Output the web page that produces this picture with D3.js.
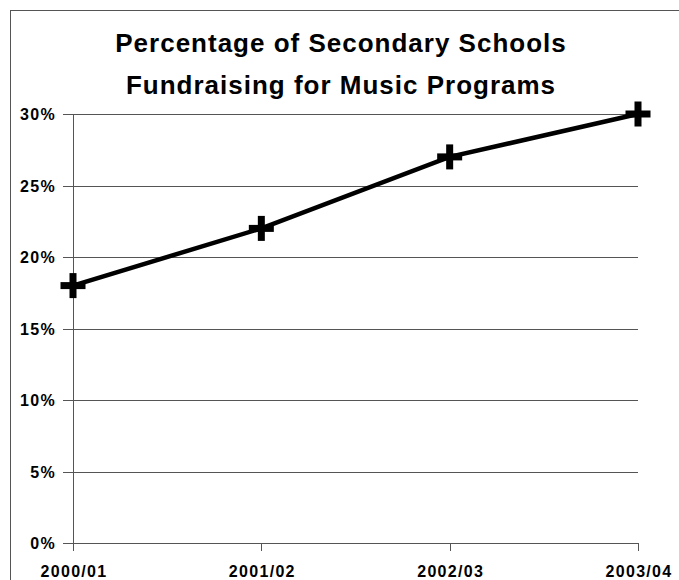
<!DOCTYPE html>
<html><head><meta charset="utf-8">
<script src="https://cdn.jsdelivr.net/npm/d3@7"></script>
<style>body{margin:0;background:#fff}svg{display:block}</style>
</head><body>
<script>
const categories = ["2000/01","2001/02","2002/03","2003/04"];
const values = [18, 22, 27, 30];
const yTicks = [0,5,10,15,20,25,30];
const titleLines = ["Percentage of Secondary Schools","Fundraising for Music Programs"];

(function(){
const W=679,H=580;
const svg=d3.select("body").append("svg").attr("width",W).attr("height",H);
svg.append("rect").attr("x",10.5).attr("y",10.5).attr("width",W).attr("height",H)
  .attr("fill","none").attr("stroke","#555").attr("stroke-width",1);

const mL=73,mR=638,mT=114,mB=543;
const x=d3.scalePoint().domain(categories).range([mL,mR]);
const y=d3.scaleLinear().domain([0,30]).range([mB,mT]);
const font="'Liberation Sans', Arial, sans-serif";

svg.append("g").selectAll("line").data(yTicks).join("line")
  .attr("x1",mL-10).attr("x2",mR).attr("y1",d=>Math.round(y(d))+0.5).attr("y2",d=>Math.round(y(d))+0.5)
  .attr("stroke","#555").attr("stroke-width",1);
svg.append("line").attr("x1",mL+0.5).attr("x2",mL+0.5).attr("y1",mT).attr("y2",mB+8)
  .attr("stroke","#555");
svg.append("g").selectAll("line").data(categories).join("line")
  .attr("x1",d=>Math.round(x(d))+0.5).attr("x2",d=>Math.round(x(d))+0.5).attr("y1",mB).attr("y2",mB+8)
  .attr("stroke","#555");

svg.append("g").selectAll("text").data(yTicks).join("text")
  .attr("x",56).attr("y",d=>y(d)+6).attr("text-anchor","end")
  .attr("font-family",font).attr("font-weight","bold").attr("font-size",16)
  .attr("letter-spacing",1.3)
  .text(d=>d+"%");
svg.append("g").selectAll("text").data(categories).join("text")
  .attr("x",d=>x(d)+1).attr("y",577).attr("text-anchor","middle")
  .attr("font-family",font).attr("font-weight","bold").attr("font-size",16)
  .attr("letter-spacing",1.3)
  .text(d=>d);

svg.append("g").selectAll("text").data(titleLines).join("text")
  .attr("x",341).attr("y",(d,i)=>52+i*42).attr("text-anchor","middle")
  .attr("font-family",font).attr("font-weight","bold").attr("font-size",26)
  .attr("letter-spacing",1)
  .text(d=>d);

const pts=categories.map((c,i)=>[x(c),y(values[i])]);
svg.append("path").attr("d",d3.line()(pts)).attr("fill","none").attr("stroke","#000").attr("stroke-width",4.5);
const plus=svg.append("g").selectAll("g").data(pts).join("g").attr("transform",d=>`translate(${d[0]},${d[1]})`);
plus.append("rect").attr("x",-12.5).attr("y",-3.5).attr("width",25).attr("height",7).attr("fill","#000");
plus.append("rect").attr("x",-3.5).attr("y",-12.5).attr("width",7).attr("height",25).attr("fill","#000");
})();
</script>
</body></html>
